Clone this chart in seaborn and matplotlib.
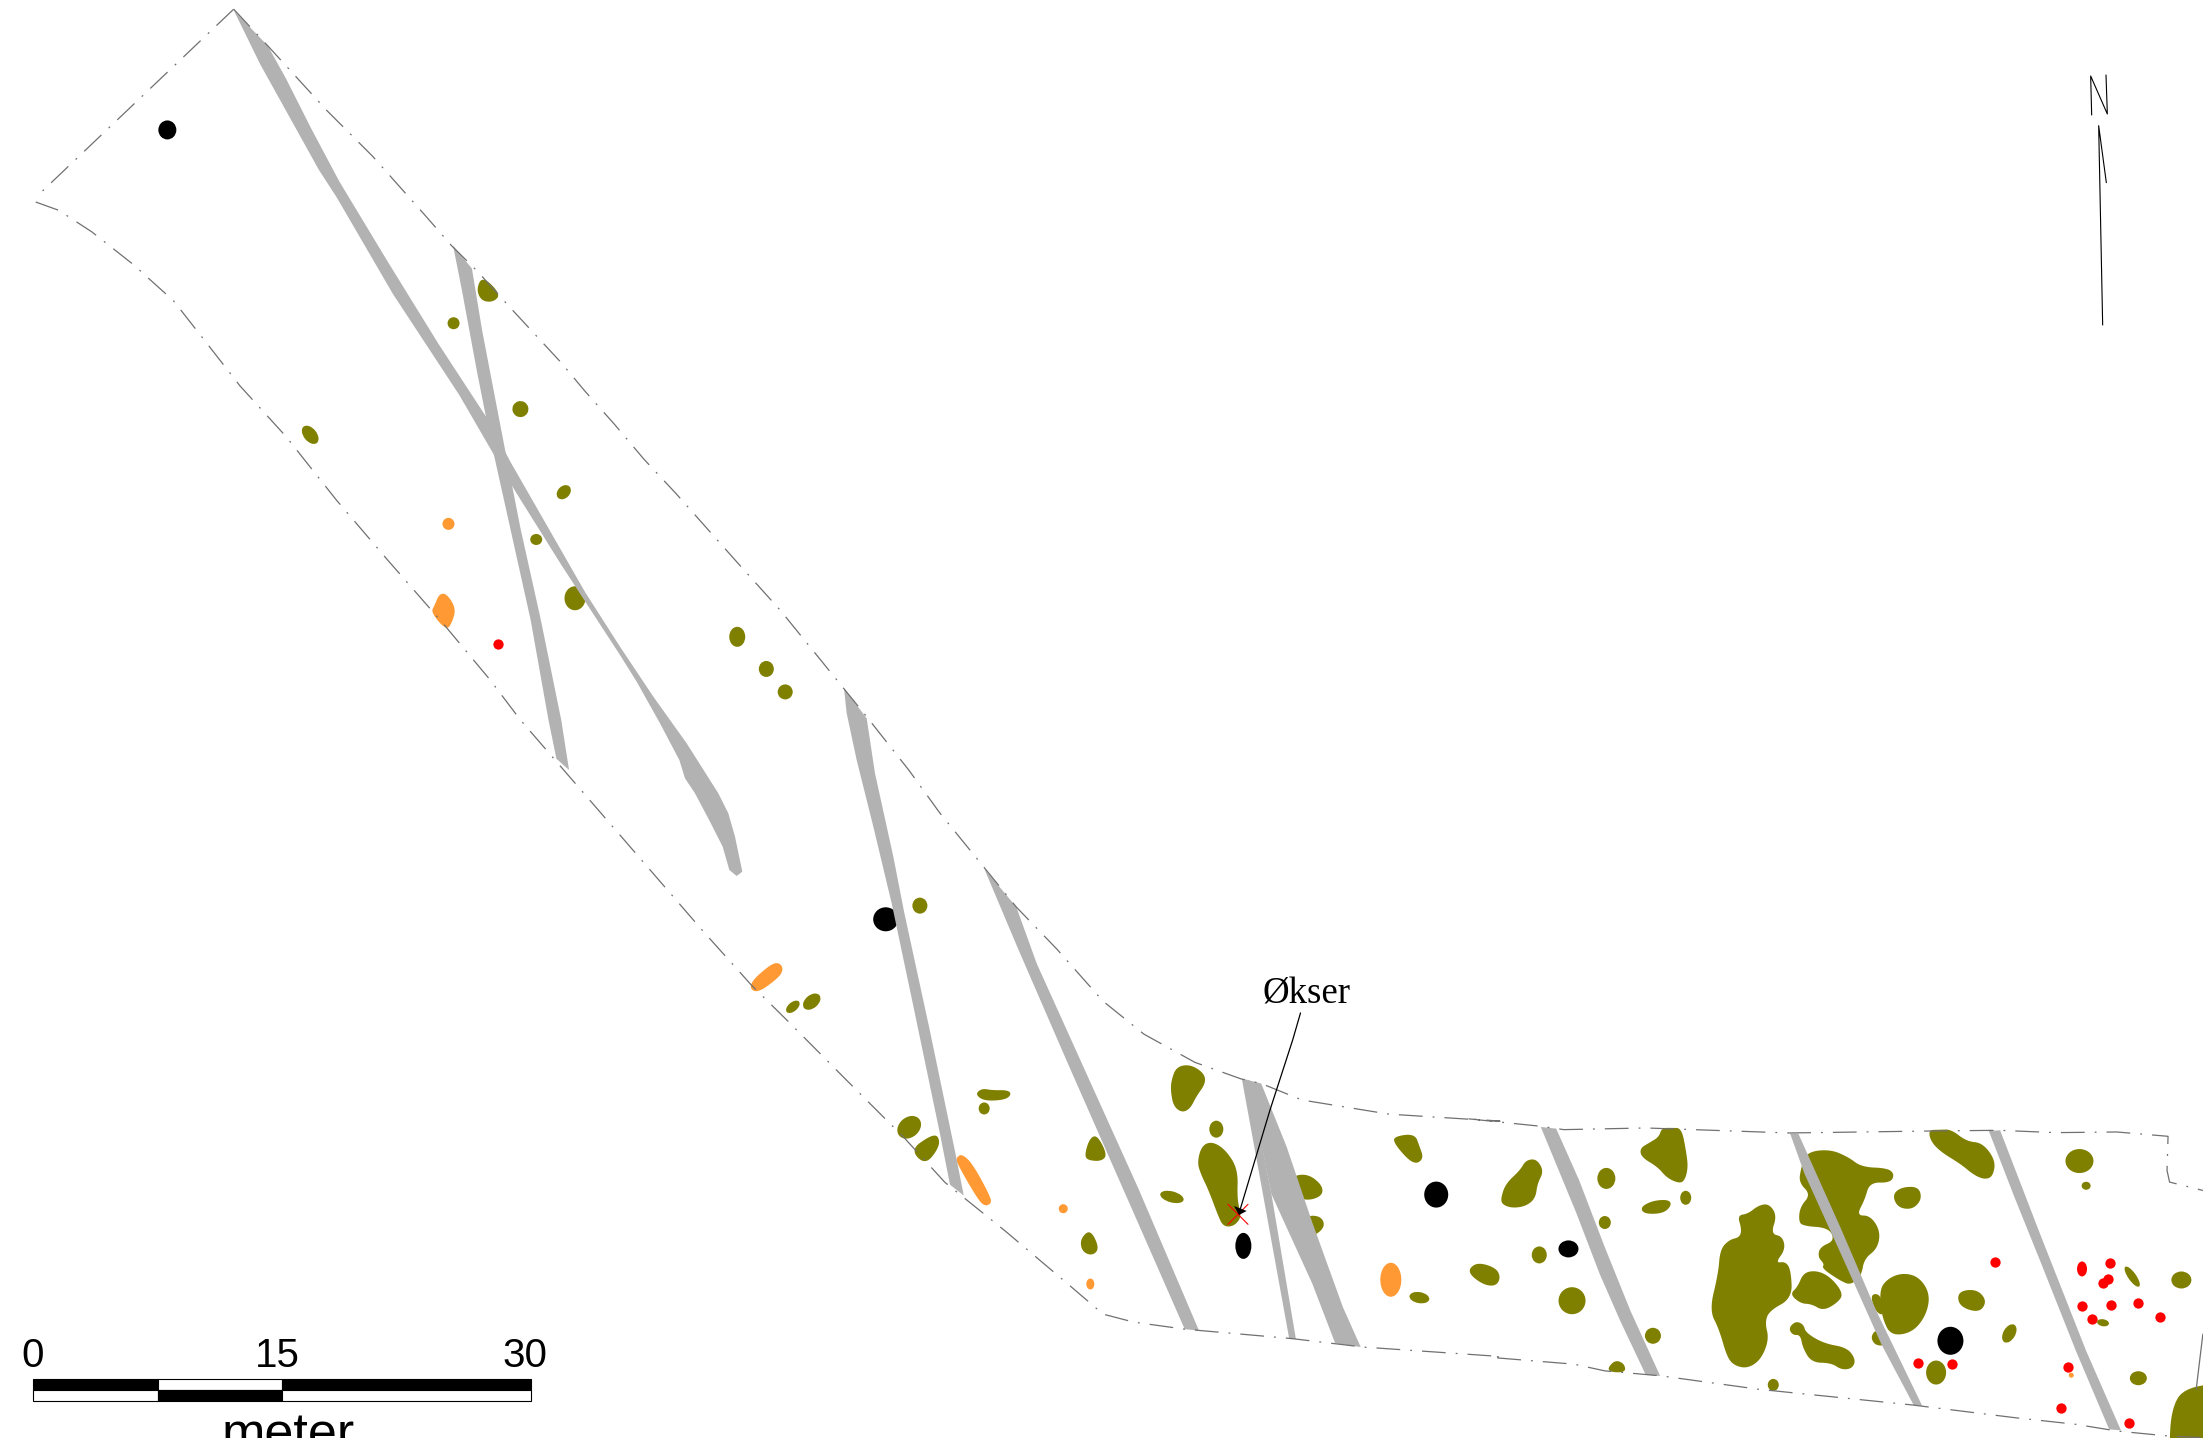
import numpy as np
import pandas as pd
from matplotlib import pyplot as plt
from matplotlib.patches import Ellipse
import seaborn as sns

# survey plan traced sheet by sheet: each sheet has its own origin and scale
SHEETS = {
    'O': (0, 0, 0.7117, 0.7117),
    'A': (0, 0, 1.96, 2.178),
    'B': (700, 700, 1.96, 2.125),
    'C': (1400, 1000, 1.953, 2.993),
    'D': (1140, 1040, 3, 3),
    'E': (620, 640, 3, 3),
    'F': (820, 670, 3, 3),
    'N': (2040, 50, 3, 3),
}

OLIVE = '#808000'
ORANGE = '#FF9933'
GREY = '#B2B2B2'
RED = '#FF0000'
LIMIT_COLOR = '#707070'

# excavation limit
LIMIT_UPPER_A = [(458, 20), (525, 100), (640, 240), (730, 340), (830, 465), (885, 535), (935, 590), (1000, 670),
                 (1100, 790), (1145, 850), (1205, 925), (1262, 1000), (1325, 1075), (1385, 1150), (1445, 1225),
                 (1530, 1330)]
LIMIT_UPPER_B = [(330, 40), (410, 150), (470, 240), (560, 360), (620, 440), (700, 530), (790, 640),
                 (870, 710), (970, 770), (1060, 805), (1100, 815), (1180, 850), (1350, 880), (1568, 895)]
LIMIT_UPPER_C = [(130, 355), (275, 378), (320, 388), (480, 383), (760, 398), (1040, 392), (1170, 390), (1280, 397),
                 (1400, 395), (1500, 408), (1498, 510), (1503, 545), (1568, 570)]
LIMIT_LOWER_A = [(458, 20), (70, 430)]
LIMIT_LOWER_A2 = [(70, 440), (115, 458), (180, 505), (260, 575), (340, 655), (400, 740), (470, 840), (560, 950),
                  (660, 1090), (760, 1220), (870, 1360), (960, 1480), (1020, 1568)]
LIMIT_LOWER_B = [(5, 490), (100, 605), (170, 680), (280, 800), (400, 930), (480, 1025), (600, 1130), (720, 1240),
                 (790, 1305), (850, 1322), (950, 1337), (1160, 1357), (1300, 1375), (1568, 1395)]
LIMIT_LOWER_C = [(180, 1070), (340, 1090), (400, 1110), (510, 1125), (700, 1165), (1000, 1212), (1200, 1250),
                 (1320, 1270), (1400, 1290), (1500, 1305), (1568, 1310)]
LIMIT_RIGHT_C = [(1568, 1000), (1555, 1165)]

# modern ditches
DITCHES = [
    [('A', [(458, 22), (525, 100), (560, 170), (610, 280), (665, 395), (760, 570), (860, 750), (960, 920),
            (1000, 1005), (1147, 1290)]),
     ('E', [(0, 20), (100, 170), (200, 310), (295, 460), (325, 520), (345, 590), (367, 695), (350, 708), (328, 690),
            (308, 620), (270, 545), (225, 460), (195, 415), (178, 360), (120, 250), (50, 125), (0, 45)]),
     ('A', [(1100, 1230), (1010, 1070), (960, 975), (900, 860), (770, 640), (660, 430),
            (625, 370), (570, 260), (510, 140)])],
    [('A', [(888, 535), (905, 630), (935, 810), (960, 950), (1000, 1150), (1040, 1350), (1075, 1568)]),
     ('O', [(396, 540), (405, 548)]),
     ('A', [(1100, 1568), (1060, 1350), (1020, 1150), (990, 980), (945, 720), (925, 585)])],
    [('F', [(72, 55), (80, 130), (110, 270), (160, 470), (215, 700)]),
     ('B', [(420, 660), (470, 920), (490, 1030), (517, 1053), (500, 960), (450, 700), (400, 450)]),
     ('F', [(220, 560), (165, 310), (140, 145)])],
    [('B', [(557, 358), (620, 520), (720, 770), (850, 1090), (950, 1337), (978, 1340), (860, 1040), (760, 800),
            (660, 560), (620, 440)])],
    [('B', [(1062, 805), (1100, 1030), (1155, 1358), (1168, 1358), (1120, 1050), (1077, 808)])],
    [('B', [(1075, 808), (1100, 815), (1150, 950), (1200, 1110), (1260, 1290), (1295, 1375), (1245, 1367),
            (1200, 1240), (1120, 1050)])],
    [('C', [(275, 380), (305, 385), (350, 540), (400, 740), (450, 930), (508, 1125), (480, 1122), (430, 960),
            (390, 820), (345, 640)])],
    [('C', [(762, 400), (778, 400), (860, 680), (930, 930), (1020, 1215), (1003, 1212), (940, 1030), (870, 790),
            (790, 520)])],
    [('C', [(1150, 392), (1172, 390), (1250, 700), (1340, 1050), (1408, 1288), (1385, 1285), (1320, 1050),
            (1250, 780), (1200, 590)])],
]

# irregular features, outlines
OLIVE_SHAPES_A = [[(947, 605), (978, 640), (965, 655), (945, 652), (937, 630)]]
OLIVE_SHAPES_B = [
    [(543, 838), (555, 827), (575, 833), (600, 830), (607, 838), (595, 848), (560, 850)],
    [(416, 955), (450, 930), (465, 928), (466, 950), (442, 985)],
    [(757, 965), (765, 935), (778, 928), (795, 965), (785, 977), (762, 975)],
    [(748, 1150), (760, 1132), (770, 1140), (779, 1165), (768, 1177), (752, 1170)],
    [(927, 810), (935, 783), (960, 778), (985, 795), (988, 815), (970, 840), (960, 865), (945, 873), (930, 860),
     (926, 830)],
    [(977, 985), (985, 950), (1005, 942), (1030, 960), (1052, 1000), (1050, 1060), (1060, 1095), (1045, 1115),
     (1025, 1115), (1015, 1090), (1000, 1040), (985, 1010)],
    [(1160, 1015), (1190, 1010), (1215, 1030), (1218, 1050), (1195, 1060), (1170, 1055)],
    [(1190, 1098), (1215, 1100), (1222, 1118), (1205, 1135), (1190, 1130)],
    [(1362, 930), (1400, 925), (1407, 950), (1415, 970), (1405, 982), (1390, 975), (1365, 945)],
]
OLIVE_SHAPES_C = [
    [(138, 805), (155, 790), (185, 805), (193, 830), (185, 852), (165, 848), (142, 825)],
    [(200, 590), (210, 550), (235, 515), (245, 485), (265, 480), (278, 515), (265, 550), (262, 590), (245, 612),
     (220, 618), (202, 608)],
    [(473, 620), (495, 605), (522, 600), (527, 615), (512, 635), (480, 638)],
    [(512, 388), (530, 388), (548, 388), (555, 450), (560, 500), (553, 540), (540, 542), (520, 525), (505, 495),
     (475, 470), (472, 445), (490, 430), (507, 415)],
    [(660, 650), (680, 645), (700, 620), (720, 615), (735, 650), (723, 705), (745, 712), (750, 750), (730, 790),
     (750, 785), (760, 810), (763, 890), (720, 925), (712, 960), (720, 1010), (705, 1070), (680, 1097), (655, 1090),
     (640, 1065), (625, 980), (607, 925), (625, 820), (628, 750), (645, 722), (665, 715), (668, 690)],
    [(795, 460), (840, 452), (875, 475), (900, 505), (950, 507), (963, 525), (955, 550), (915, 550), (905, 600),
     (888, 645), (915, 645), (935, 690), (930, 740), (905, 770), (900, 820), (880, 848), (860, 835), (825, 798),
     (830, 785), (818, 765), (822, 735), (850, 715), (840, 678), (790, 675), (782, 660), (785, 620), (805, 585),
     (782, 550), (785, 510)],
    [(765, 880), (780, 860), (790, 820), (815, 815), (840, 835), (863, 880), (850, 905), (825, 925), (805, 905),
     (785, 905)],
    [(762, 985), (775, 965), (790, 975), (795, 1000), (825, 1030), (870, 1040), (887, 1075), (880, 1100), (860, 1103),
     (840, 1082), (805, 1080), (790, 1040), (785, 1005), (770, 1005)],
    [(405, 1110), (420, 1082), (435, 1090), (438, 1113)],
    [(945, 850), (975, 822), (1010, 830), (1032, 880), (1025, 940), (1000, 990), (960, 1000), (945, 950), (940, 890)],
    [(920, 885), (938, 885), (945, 940), (930, 930)],
    [(922, 1010), (932, 988), (950, 1030), (930, 1030)],
    [(1035, 392), (1056, 392), (1078, 392), (1105, 428), (1135, 430), (1160, 480), (1155, 525), (1140, 533),
     (1120, 520), (1095, 485), (1060, 455), (1040, 425)],
    [(965, 585), (980, 565), (1010, 562), (1016, 595), (1000, 622), (975, 618)],
    [(1092, 875), (1125, 870), (1143, 900), (1130, 932), (1095, 915)],
    [(1505, 1380), (1508, 1230), (1535, 1160), (1640, 1150), (1640, 1380)],
]
ORANGE_SHAPES_A = [[(862, 1297), (875, 1297), (890, 1325), (885, 1350), (875, 1370), (848, 1333), (855, 1320)]]
ORANGE_SHAPES_B = [
    [(97, 603), (140, 563), (155, 562), (160, 575), (150, 590), (112, 622)],
    [(505, 975), (515, 968), (535, 990), (568, 1055), (568, 1068), (555, 1072), (540, 1050), (505, 985)],
]

# round features: centre x, centre y, radius x, radius y, tilt
OLIVE_DOTS_A = [(889, 704, 6, 6, 0), (1020, 891, 8, 8, 30), (608, 947, 10.5, 6.5, 51), (1105, 1072, 8, 6, -45),
                (1051, 1175, 6, 5.5, 0), (1127, 1303, 10.5, 12, 0), (1445, 1387, 8, 10, 0), (1502, 1457, 7.5, 8, 0),
                (1539, 1507, 7.5, 7.5, 0)]
OLIVE_DOTS_B = [(431, 437, 7.5, 8, 0), (182, 652, 8, 4.5, -40), (219, 641, 10, 6.5, -40), (557, 868, 5.5, 6, 0),
                (410, 908, 13, 10, -40), (1012, 912, 7, 8.5, 0), (925, 1056, 12, 5.5, 15), (1410, 1270, 10, 5.5, 10)]
OLIVE_DOTS_C = [(272, 763, 7.5, 8.5, 0), (336, 900, 13.5, 13.5, 0), (403, 534, 9, 10.5, 0), (400, 666, 6, 6.5, 0),
                (558, 592, 5.5, 7, 0), (494, 1005, 8, 8, 0), (729, 1152, 5.5, 6, 0), (1047, 1115, 10, 12, 0),
                (1190, 998, 10, 6, -60), (1327, 482, 14, 12, 0), (1340, 556, 4.5, 4, 0), (1430, 828, 12, 4, 55),
                (1526, 838, 10, 8.5, 0), (1373, 966, 6, 3.5, 10), (1442, 1132, 8.5, 7, 0)]
BLACK_DOTS_A = [(328, 283, 9, 9.5, 0)]
BLACK_DOTS_B = [(364, 466, 12.5, 12, 0), (1065, 1160, 8, 13, 0), (1443, 1051, 12, 13, 0)]
BLACK_DOTS_C = [(1075, 1020, 13, 14, 0), (329, 745, 10, 8.5, 0)]
ORANGE_DOTS_A = [(879, 1141, 6, 6, 0)]
ORANGE_DOTS_B = [(712, 1081, 4.5, 4.5, 0), (765, 1241, 4, 5.5, 0), (1354, 1232, 10.5, 17, 0)]
ORANGE_DOTS_C = [(1311, 1123, 2.5, 2.5, 0)]
RED_LONG_C = [(1332, 805, 5, 7.5, 0)]

# small red finds
RED_A_X = [977]
RED_A_Y = [1403]
RED_C_X = [1163, 1386, 1372, 1383, 1332, 1388, 1442, 1351, 1484, 1012, 1079, 1305, 1291, 1424]
RED_C_Y = [785, 787, 848, 836, 917, 913, 908, 955, 950, 1087, 1090, 1098, 1220, 1265]

# annotation and north arrow
ARROW_LINE = [('B', (1177, 665)), ('D', (458, 0)), ('D', (390, 210)), ('D', (300, 510))]
ARROW_HEAD_D = [(282, 498), (320, 513), (297, 525)]
CROSS_D = (294, 523)
NORTH_N = [(155, 195), (152, 78), (202, 192), (198, 75)]
NORTH_ARROW = [(188, 825), (176, 227), (199, 398)]

# scale bar
SCALE_METRES = [0, 7.5, 15, 30]
SCALE_LABELS = ['0', '15', '30']
SCALE_LABEL_X = [33, 277, 525]
BAR_X0, BAR_PX_PER_M = 33, 16.6


def px(sheet, pts):
    x0, y0, sx, sy = SHEETS[sheet]
    return [(x0 + p[0] / sx, y0 + p[1] / sy) for p in pts]


def smooth(pts, n=3):
    # corner cutting so the traced outlines come out round, pushed out a little as cutting shrinks them
    p = np.array(pts, dtype=float)
    mid = p.mean(axis=0)
    d = p - mid
    p = p + 1.8 * d / np.linalg.norm(d, axis=1, keepdims=True)
    for _ in range(n):
        q = np.roll(p, -1, axis=0)
        p = np.column_stack([0.75 * p + 0.25 * q, 0.25 * p + 0.75 * q]).reshape(-1, 2)
    return p


def draw_line(ax, pts, color, lw, ls='-'):
    df = pd.DataFrame(pts, columns=['x', 'y'])
    sns.lineplot(data=df, x='x', y='y', sort=False, estimator=None, color=color, linewidth=lw, linestyle=ls,
                 zorder=5, ax=ax)


def draw_shapes(ax, sheet, shapes, color):
    for s in shapes:
        p = smooth(px(sheet, s))
        ax.fill(p[:, 0], p[:, 1], color=color, lw=0, zorder=2)


def draw_dots(ax, sheet, dots, color):
    for d in dots:
        c = px(sheet, [d[:2]])[0]
        ax.add_patch(Ellipse(c, 2 * d[2], 2 * d[3], angle=d[4], color=color, lw=0, zorder=2))


sns.set_style('white')
fig = plt.figure(figsize=(22.03, 14.38), dpi=100)
ax = fig.add_axes([0, 0, 1, 1])

for sheet, shapes in [('A', OLIVE_SHAPES_A), ('B', OLIVE_SHAPES_B), ('C', OLIVE_SHAPES_C)]:
    draw_shapes(ax, sheet, shapes, OLIVE)
for sheet, shapes in [('A', ORANGE_SHAPES_A), ('B', ORANGE_SHAPES_B)]:
    draw_shapes(ax, sheet, shapes, ORANGE)
for sheet, dots in [('A', OLIVE_DOTS_A), ('B', OLIVE_DOTS_B), ('C', OLIVE_DOTS_C)]:
    draw_dots(ax, sheet, dots, OLIVE)
for sheet, dots in [('A', BLACK_DOTS_A), ('B', BLACK_DOTS_B), ('C', BLACK_DOTS_C)]:
    draw_dots(ax, sheet, dots, 'black')
for sheet, dots in [('A', ORANGE_DOTS_A), ('B', ORANGE_DOTS_B), ('C', ORANGE_DOTS_C)]:
    draw_dots(ax, sheet, dots, ORANGE)
draw_dots(ax, 'C', RED_LONG_C, RED)

red = pd.DataFrame(px('A', list(zip(RED_A_X, RED_A_Y))) + px('C', list(zip(RED_C_X, RED_C_Y))), columns=['x', 'y'])
sns.scatterplot(data=red, x='x', y='y', color=RED, s=55, linewidth=0, zorder=2, ax=ax)

for ditch in DITCHES:
    outline = []
    for sheet, pts in ditch:
        outline += px(sheet, pts)
    outline = np.array(outline)
    ax.fill(outline[:, 0], outline[:, 1], color=GREY, lw=0, zorder=3)

dash = (0, (19, 8, 1.5, 8))
draw_line(ax, px('A', LIMIT_UPPER_A) + px('B', LIMIT_UPPER_B) + px('C', LIMIT_UPPER_C), LIMIT_COLOR, 0.9, dash)
draw_line(ax, px('A', LIMIT_LOWER_A), LIMIT_COLOR, 0.9, dash)
draw_line(ax, px('A', LIMIT_LOWER_A2) + px('B', LIMIT_LOWER_B) + px('C', LIMIT_LOWER_C), LIMIT_COLOR, 0.9, dash)
draw_line(ax, px('C', LIMIT_RIGHT_C), LIMIT_COLOR, 0.9)

# Økser pointer
cx, cy = px('D', [CROSS_D])[0]
arm = 10
draw_line(ax, [(cx - arm, cy - arm), (cx + arm, cy + arm)], RED, 0.8)
draw_line(ax, [(cx - arm, cy + arm), (cx + arm, cy - arm)], RED, 0.8)
line = []
for sheet, p in ARROW_LINE:
    line += px(sheet, [p])
draw_line(ax, line, 'black', 0.9)
head = np.array(px('D', ARROW_HEAD_D))
ax.fill(head[:, 0], head[:, 1], color='black', lw=0, zorder=6)
ax.text(1307, 1003, 'Økser', family='Liberation Serif', fontsize=26.6, ha='center', va='baseline', color='black')

# north sign
draw_line(ax, px('N', NORTH_N), 'black', 0.8)
draw_line(ax, px('N', NORTH_ARROW), 'black', 0.8)

# scale bar, upper row black-white-black, lower row the opposite
BAR_TOP, BAR_MID, BAR_BOT = 1379, 1390, 1401
for i in range(3):
    left = BAR_X0 + SCALE_METRES[i] * BAR_PX_PER_M
    width = (SCALE_METRES[i + 1] - SCALE_METRES[i]) * BAR_PX_PER_M
    top_c, low_c = ('white', 'black') if i == 1 else ('black', 'white')
    ax.bar(left, BAR_MID - BAR_TOP, width, bottom=BAR_TOP, align='edge', color=top_c, edgecolor='black', lw=0.8)
    ax.bar(left, BAR_BOT - BAR_MID, width, bottom=BAR_MID, align='edge', color=low_c, edgecolor='black', lw=0.8)
for label, x in zip(SCALE_LABELS, SCALE_LABEL_X):
    ax.text(x, 1367, label, family='Liberation Sans', fontsize=29, ha='center', va='baseline', color='black')
ax.text(288, 1449, 'meter', family='Liberation Sans', fontsize=37.5, ha='center', va='baseline', color='black')

ax.set_xlim(0, 2203)
ax.set_ylim(1438, 0)
ax.axis('off')
fig.savefig('out.png', dpi=100)
